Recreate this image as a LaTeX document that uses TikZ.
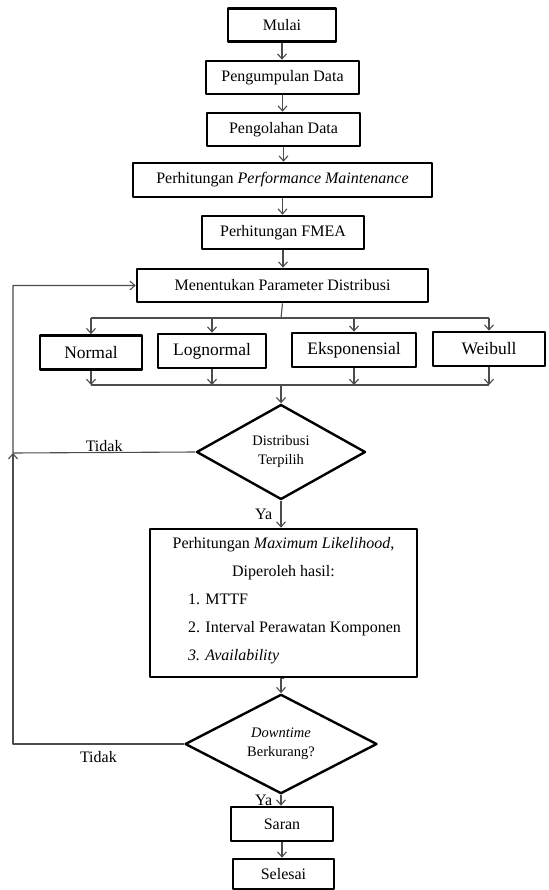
\documentclass[tikz,border=0pt]{standalone}
\usepackage{fontspec}
\setmainfont{Liberation Serif}
\usetikzlibrary{shapes.geometric,arrows.meta}
\begin{document}
\begin{tikzpicture}[x=1pt, y=-1pt, font=\fontsize{16}{19}\selectfont, line join=round,
	>={Straight Barb[length=5pt,width=9pt]},
	procbox/.style={draw, line width=2.7pt, minimum height=33pt, inner sep=2pt},
	distbox/.style={procbox, minimum height=34pt, font=\fontsize{17.5}{21}\selectfont},
	decision/.style={draw, diamond, line width=2.4pt, inner sep=0pt, align=center, font=\fontsize{14.5}{19}\selectfont},
	conn/.style={draw=black!70, line width=1.1pt}]
	\useasboundingbox (0,0) rectangle (548,890);
	% alur utama
	\node[procbox, minimum width=108pt] (mulai) at (282,25) {Mulai};
	\node[procbox, minimum width=153pt] (kumpul) at (282.5,77.5) {Pengumpulan Data};
	\node[procbox, minimum width=153pt] (olah) at (283.5,129.5) {Pengolahan Data};
	\node[procbox, minimum width=299pt, minimum height=34pt] (perf) at (282.5,180) {Perhitungan \textit{Performance Maintenance}};
	\node[procbox, minimum width=162pt] (fmea) at (283,232.5) {Perhitungan FMEA};
	\node[procbox, minimum width=291pt] (param) at (282.5,285.5) {Menentukan Parameter Distribusi};
	% distribusi
	\node[distbox, minimum width=102pt] (normal) at (91,352.5) {Normal};
	\node[distbox, minimum width=108pt] (lognormal) at (212,351) {Lognormal};
	\node[distbox, minimum width=124pt] (eksp) at (354,350) {Eksponensial};
	\node[distbox, minimum width=112pt] (weibull) at (489,349) {Weibull};
	\node[decision, minimum width=169pt, minimum height=95pt] (pilih) at (281,452) {Distribusi\\Terpilih};
	\node[procbox, minimum width=267pt, minimum height=148pt, align=center, font=\fontsize{16}{28}\selectfont] (mle) at (283.5,603)
		{Perhitungan \textit{Maximum Likelihood},\\ Diperoleh hasil:\\
		\hspace*{22pt}\begin{tabular}[t]{@{}l@{}}1. MTTF\\ 2. Interval Perawatan Komponen\\ \textit{3. Availability}\end{tabular}};
	\node[decision, minimum width=192pt, minimum height=96pt] (turun) at (281,744) {\textit{Downtime}\\Berkurang?};
	\node[procbox, minimum width=102pt, minimum height=34pt] (saran) at (282,824) {Saran};
	\node[procbox, minimum width=101pt, minimum height=30pt] (selesai) at (283.5,874) {Selesai};
	\coordinate (cabang) at (281,318);
	\coordinate (gabung) at (281,385);
	\coordinate (balik) at (13,453);
	% panah
	\draw[conn, ->] (mulai.south) -- (mulai.south |- kumpul.north);
	\draw[conn, ->] (kumpul.south) -- (kumpul.south |- olah.north);
	\draw[conn, ->] (olah.south) -- (olah.south |- perf.north);
	\draw[conn, ->] (perf.south) -- (perf.south |- fmea.north);
	\draw[conn, ->] (fmea.south) -- (fmea.south |- param.north);
	\draw[conn] (param.south |- param.south) -- (cabang);
	\draw[conn] (normal.north |- cabang) -- (weibull.north |- cabang);
	\foreach \d in {normal,lognormal,eksp,weibull}{
		\draw[conn, ->] (\d.north |- cabang) -- (\d.north);
		\draw[conn, ->] (\d.south) -- (\d.south |- gabung);
	}
	\draw[conn] (normal.south |- gabung) -- (weibull.south |- gabung);
	\draw[conn, ->] (gabung) -- (pilih.north);
	\draw[conn, ->] (pilih.west) -- node[above, inner sep=0.5pt]{Tidak} (balik) |- (param.west);
	\draw[conn, ->] (pilih.south) -- node[left=5pt]{Ya} (pilih.south |- mle.north);
	\draw[conn, ->] (mle.south) -- (mle.south -| turun.north) -- (turun.north);
	\draw[conn, ->] (turun.west) -| node[pos=0.25, below=7pt, inner sep=0pt]{Tidak} (balik);
	\draw[conn, ->] (turun.south) -- node[left=5pt]{Ya} (turun.south |- saran.north);
	\draw[conn, ->] (saran.south) -- (saran.south |- selesai.north);
\end{tikzpicture}
\end{document}
